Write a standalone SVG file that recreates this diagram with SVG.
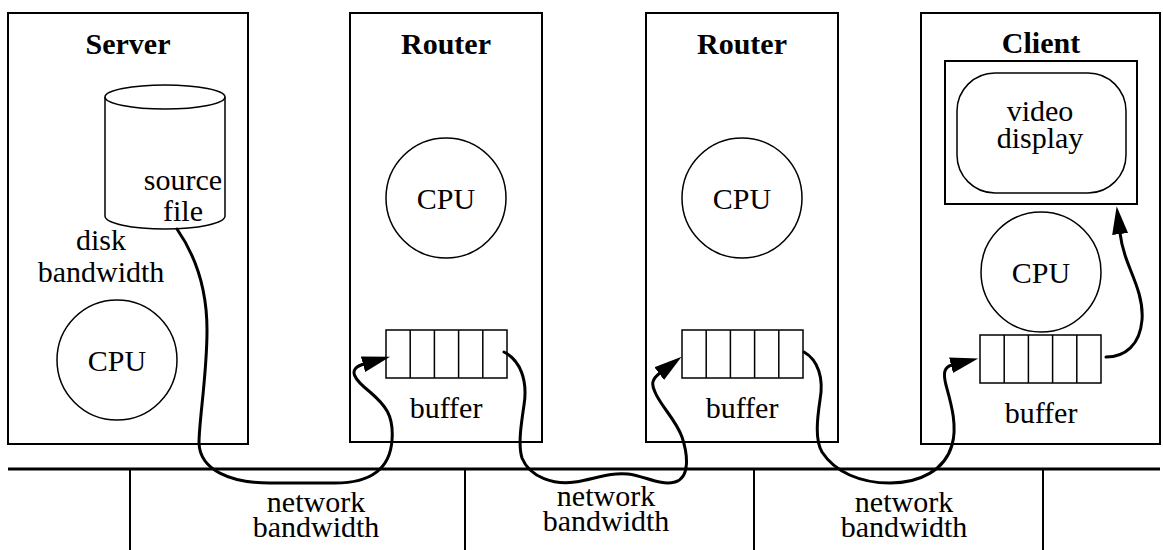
<svg xmlns="http://www.w3.org/2000/svg" width="1163" height="550" viewBox="0 0 1163 550">
<style>
.box{fill:none;stroke:#000;stroke-width:2}
.thin{fill:none;stroke:#000;stroke-width:1.5}
.cell{fill:#fff;stroke:#000;stroke-width:1.5}
text{font-family:'Liberation Serif','Times New Roman','DejaVu Serif',serif;font-size:30px;fill:#000;text-anchor:middle}
.b{font-weight:bold}
.conn{fill:none;stroke:#000;stroke-width:3;stroke-linecap:round}
.net{fill:none;stroke:#000;stroke-width:3}
.drop{fill:none;stroke:#000;stroke-width:2}
</style>
<defs>
<marker id="ah" markerUnits="userSpaceOnUse" markerWidth="30" markerHeight="18" viewBox="0 -9 30 18" refX="1" refY="0" orient="auto">
<path d="M0,-8 L28,0 L0,8 z" fill="#000"/>
</marker>
<g id="bufshape">
<rect x="0" y="0" width="121" height="48" class="cell"/>
<path d="M24.2,0V48M48.4,0V48M72.6,0V48M96.8,0V48" class="thin"/>
</g>
</defs>
<rect width="1163" height="550" fill="#fff"/>

<g id="server">
<rect x="8" y="13" width="240" height="431" class="box"/>
<text x="128" y="54" class="b">Server</text>
<g id="disk">
<path d="M105,97 V216 A60,13 0 0 0 225,216 V97" class="thin" fill="#fff"/>
<ellipse cx="165" cy="97" rx="60" ry="12" class="thin"/>
<text x="183" y="190">source<tspan x="183" y="221">file</tspan></text>
</g>
<text x="101" y="250">disk<tspan x="101" y="282">bandwidth</tspan></text>
<g id="server-cpu">
<circle cx="117" cy="360" r="60" class="thin"/>
<text x="117" y="371">CPU</text>
</g>
</g>

<g id="router1">
<rect x="350" y="13" width="192" height="429" class="box"/>
<text x="446" y="54" class="b">Router</text>
<circle cx="446" cy="198" r="60" class="thin"/>
<text x="446" y="209">CPU</text>
<use href="#bufshape" x="386" y="330"/>
<text x="446" y="418">buffer</text>
</g>

<g id="router2">
<rect x="646" y="13" width="192" height="429" class="box"/>
<text x="742" y="54" class="b">Router</text>
<circle cx="742" cy="198" r="60" class="thin"/>
<text x="742" y="209">CPU</text>
<use href="#bufshape" x="682" y="330"/>
<text x="742" y="418">buffer</text>
</g>

<g id="client">
<rect x="921" y="13" width="239" height="431" class="box"/>
<text x="1041" y="53" class="b">Client</text>
<g id="display">
<rect x="945" y="61" width="192" height="143" class="box"/>
<rect x="957" y="73" width="169" height="120" rx="38" ry="38" class="thin"/>
<text x="1040" y="121">video<tspan x="1040" y="148">display</tspan></text>
</g>
<circle cx="1041" cy="272" r="60" class="thin"/>
<text x="1041" y="283">CPU</text>
<use href="#bufshape" x="980" y="335"/>
<text x="1041" y="423">buffer</text>
</g>

<g id="network">
<path d="M8,469 H1160" class="net"/>
<path d="M130,469 V550 M465,469 V550 M754,469 V550 M1043,469 V550" class="drop"/>
<text x="316" y="512">network<tspan x="316" y="537">bandwidth</tspan></text>
<text x="606" y="506">network<tspan x="606" y="531">bandwidth</tspan></text>
<text x="904" y="512">network<tspan x="904" y="537">bandwidth</tspan></text>
</g>

<g id="connectors">
<path d="M177,229 C195,255 207,290 207,330 C207,375 199,420 199,443 C200,470 230,483 270,483 L335,483 C370,483 390,470 392,440 C394,415 385,405 370,392 C355,380 346,369 364,364" class="conn" marker-end="url(#ah)"/>
<path d="M504,352 C520,360 528,380 524,405 C521,425 518,445 522,458 C530,478 555,485 575,482 C595,479 610,472 628,474 C645,476 660,486 675,482 C690,478 688,455 682,437 C676,420 660,405 655,392 C651,384 652,379 660,373" class="conn" marker-end="url(#ah)"/>
<path d="M804,352 C818,360 824,378 820,400 C817,420 815,440 822,452 C835,472 860,483 890,483 C920,483 945,470 952,445 C958,425 950,400 946,385 C943,373 944,367 952,365" class="conn" marker-end="url(#ah)"/>
<path d="M1106,357 C1125,357 1140,345 1142,320 C1144,295 1130,272 1125,255 C1122,246 1121,241 1120,233" class="conn" marker-end="url(#ah)"/>
</g>
</svg>
